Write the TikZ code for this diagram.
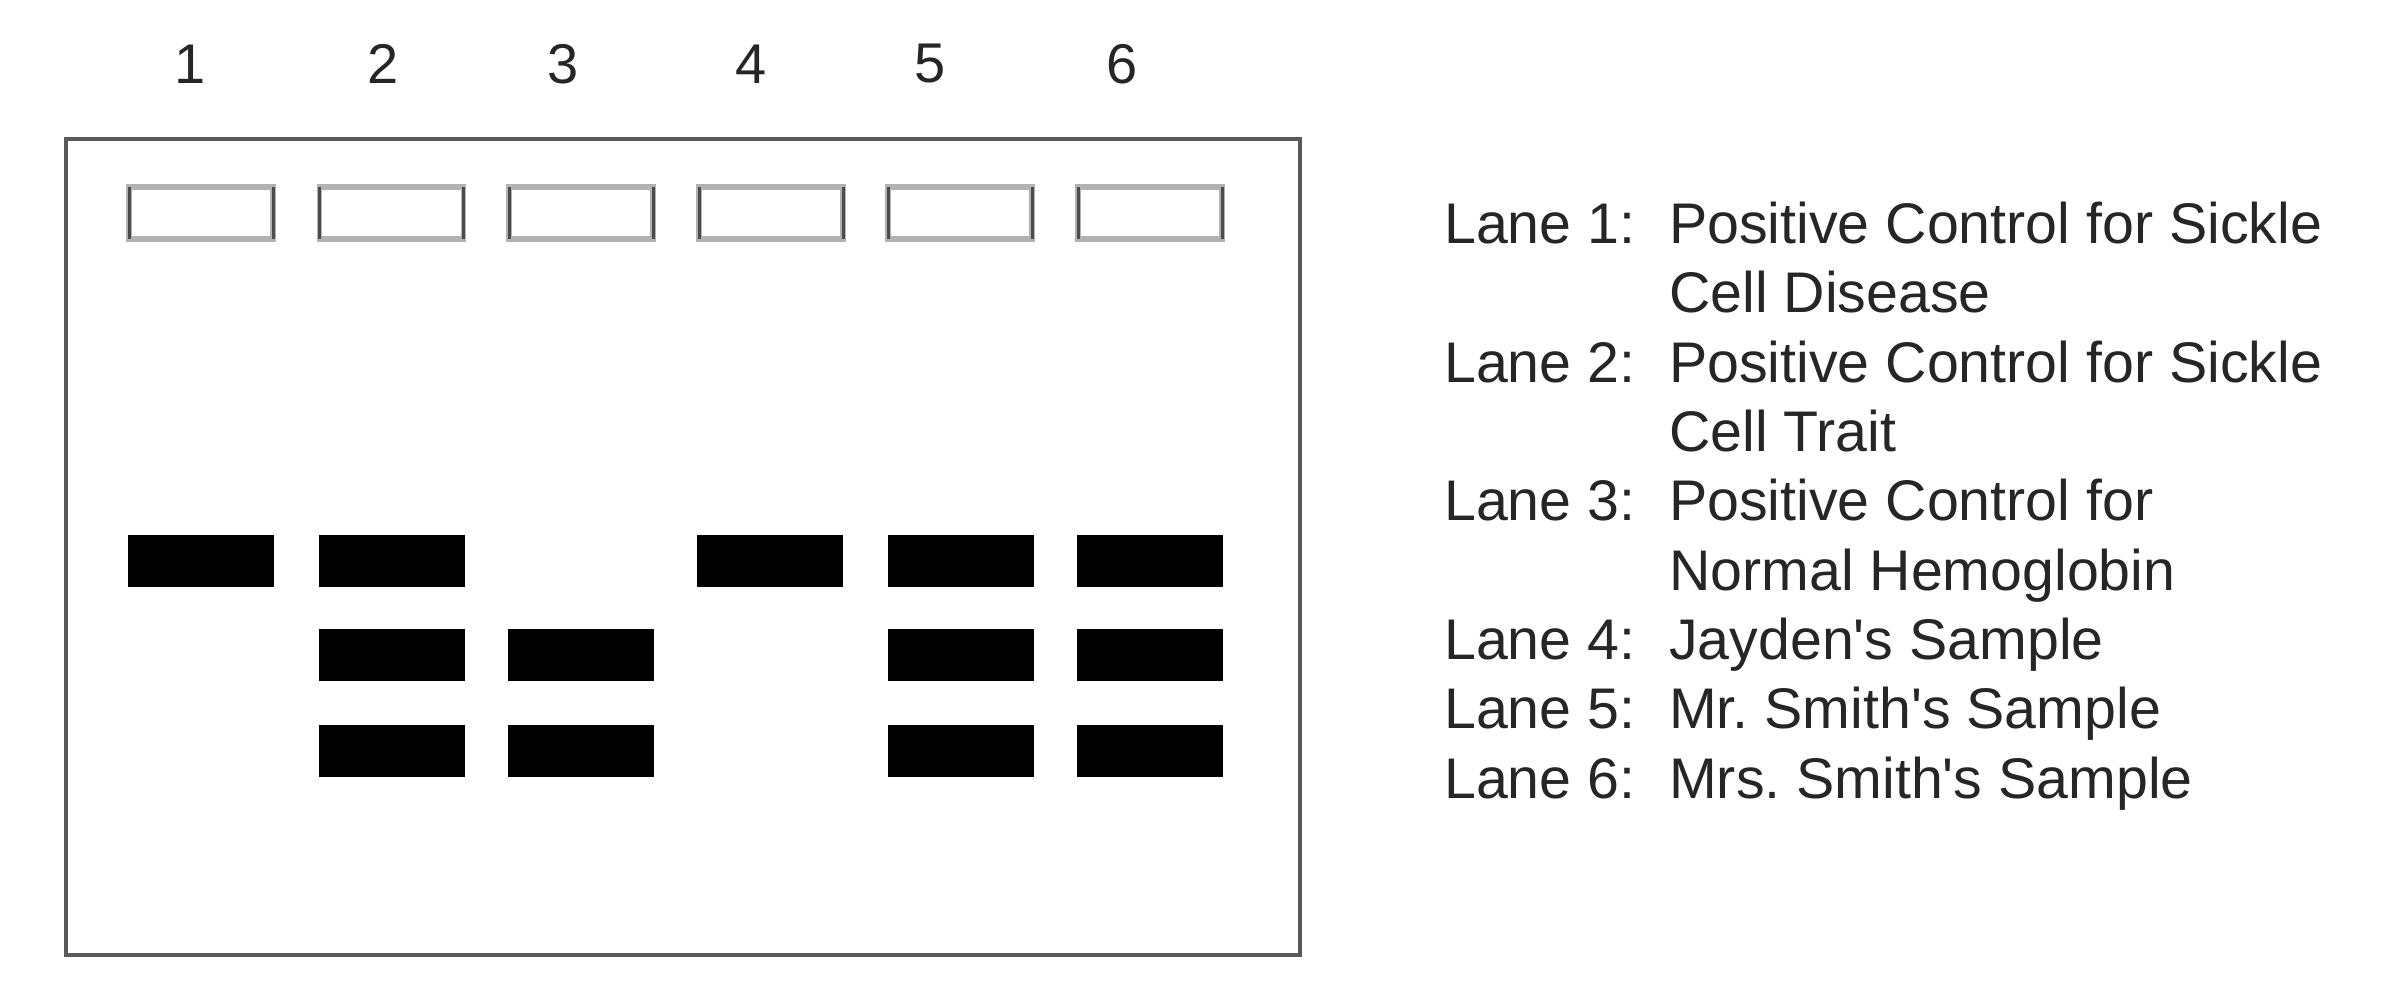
\documentclass[tikz,border=0pt]{standalone}
\usepackage{fontspec}
\setmainfont{Liberation Sans}[Ligatures=TeXOff]
\frenchspacing
\begin{document}
\begin{tikzpicture}[x=1pt,y=-1pt,
  gelframe/.style={draw=black!65,line width=4pt},
  well/.style={draw=black!30,line width=5.5pt,minimum width=144pt,minimum height=52pt,inner sep=0pt,outer sep=0pt},
  wellside/.style={draw=black!70,line width=3pt},
  band/.style={fill=black,draw=none,minimum width=146pt,minimum height=52pt,inner sep=0pt,outer sep=0pt},
  lanenum/.style={font=\fontsize{56}{60}\selectfont,text=black!85,inner sep=0pt},
  leg/.style={font=\fontsize{57.3}{69}\selectfont,text=black!85,anchor=base west,inner sep=0pt}]
\useasboundingbox (0,0) rectangle (2384,990);
% frame
\node[gelframe,minimum width=1234pt,minimum height=816pt,inner sep=0pt,anchor=north west] (gel) at (64,137) {};
% lane numbers
\foreach \i/\x in {1/190,2/383,3/563,4/751,5/930,6/1122}
  \node[lanenum] (n\i) at (\x,64) {\i};
% wells
\foreach \i/\x in {1/201,2/391.5,3/581,4/771,5/960,6/1150}{
  \node[well] (w\i) at (\x,213) {};
  \draw[wellside] (w\i.north west) -- (w\i.south west);
  \draw[wellside] (w\i.north east) -- (w\i.south east);
}
% bands: row 1
\node[band] (b11) at (201,561) {};
\node[band] (b21) at (391.5,561) {};
\node[band] (b41) at (770,561) {};
\node[band] (b51) at (961,561) {};
\node[band] (b61) at (1150,561) {};
% row 2
\node[band] (b22) at (391.5,655) {};
\node[band] (b32) at (581,655) {};
\node[band] (b52) at (961,655) {};
\node[band] (b62) at (1150,655) {};
% row 3
\node[band] (b23) at (391.5,751) {};
\node[band] (b33) at (581,751) {};
\node[band] (b53) at (961,751) {};
\node[band] (b63) at (1150,751) {};
% legend
\node[leg] (l1) at (1444,243) {Lane 1:};
\node[leg] (d1a) at (1669,243) {Positive Control for Sickle};
\node[leg] (d1b) at (1669,312) {Cell Disease};
\node[leg] (l2) at (1444,382) {Lane 2:};
\node[leg] (d2a) at (1669,382) {Positive Control for Sickle};
\node[leg] (d2b) at (1669,451) {Cell Trait};
\node[leg] (l3) at (1444,520) {Lane 3:};
\node[leg] (d3a) at (1669,520) {Positive Control for};
\node[leg] (d3b) at (1669,590) {Normal Hemoglobin};
\node[leg] (l4) at (1444,659) {Lane 4:};
\node[leg] (d4) at (1669,659) {Jayden's Sample};
\node[leg] (l5) at (1444,728) {Lane 5:};
\node[leg] (d5) at (1669,728) {Mr. Smith's Sample};
\node[leg] (l6) at (1444,798) {Lane 6:};
\node[leg] (d6) at (1669,798) {Mrs. Smith's Sample};
\end{tikzpicture}
\end{document}
